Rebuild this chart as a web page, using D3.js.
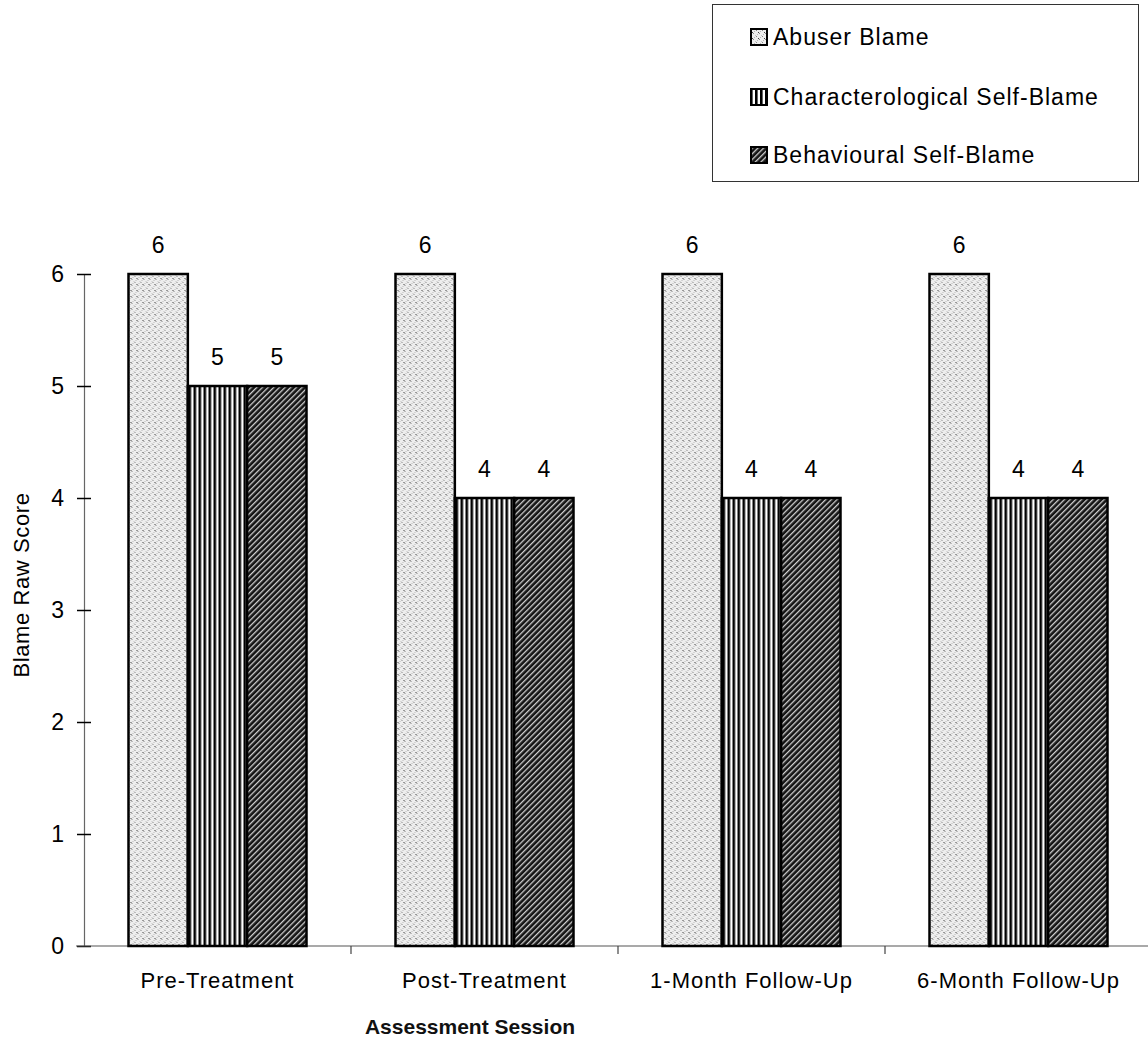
<!DOCTYPE html>
<html>
<head>
<meta charset="utf-8">
<script src="https://cdn.jsdelivr.net/npm/d3@7"></script>
<style>
  html, body { margin: 0; padding: 0; background: #fff; }
  svg { display: block; font-family: Arial, "Liberation Sans", Helvetica, sans-serif; }
</style>
</head>
<body>
<svg id="chart" width="1148" height="1044"></svg>
<script>
// Assessment sessions (x categories)
const sessions = ["Pre-Treatment", "Post-Treatment", "1-Month Follow-Up", "6-Month Follow-Up"];

// Blame raw scores per session
const abuserBlame = [6, 6, 6, 6];
const characterologicalSelfBlame = [5, 4, 4, 4];
const behaviouralSelfBlame = [5, 4, 4, 4];

const seriesNames = ["Abuser Blame", "Characterological Self-Blame", "Behavioural Self-Blame"];
const yTickValues = [0, 1, 2, 3, 4, 5, 6];

const series = [
  { name: seriesNames[0], values: abuserBlame, fill: "url(#stipple)" },
  { name: seriesNames[1], values: characterologicalSelfBlame, fill: "url(#vlines)" },
  { name: seriesNames[2], values: behaviouralSelfBlame, fill: "url(#hatch)" }
];

const svg = d3.select("#chart");

// ---- fill patterns ----
const defs = svg.append("defs");

// light dotted stipple
const st = defs.append("pattern").attr("id", "stipple")
  .attr("patternUnits", "userSpaceOnUse").attr("width", 6).attr("height", 6);
st.append("rect").attr("width", 6).attr("height", 6).attr("fill", "#eeeeee");
[[0,0,"#8a8a8a"],[3,3,"#8a8a8a"],[1,4,"#b8b8b8"],[4,1,"#b8b8b8"],[2,2,"#444"],[5,5,"#c4c4c4"]].forEach(([x, y, c]) => {
  st.append("rect").attr("x", x).attr("y", y).attr("width", 1).attr("height", 1).attr("fill", c);
});

// vertical lines
const vl = defs.append("pattern").attr("id", "vlines")
  .attr("patternUnits", "userSpaceOnUse").attr("width", 5).attr("height", 10);
vl.append("rect").attr("width", 5).attr("height", 10).attr("fill", "#fff");
vl.append("rect").attr("x", 0).attr("width", 2.6).attr("height", 10).attr("fill", "#000");

// dense diagonal hatch
const ht = defs.append("pattern").attr("id", "hatch")
  .attr("patternUnits", "userSpaceOnUse").attr("width", 4).attr("height", 4)
  .attr("patternTransform", "rotate(45)");
ht.append("rect").attr("width", 4).attr("height", 4).attr("fill", "#141414");
ht.append("rect").attr("x", 0).attr("width", 1.3).attr("height", 4).attr("fill", "#d0d0d0");

// ---- scales ----
const x = d3.scaleBand().domain(sessions).range([84, 1152]).padding(0);
const groupWidth = 178;
const xInner = d3.scaleBand().domain(d3.range(series.length)).range([0, groupWidth]).padding(0);
const y = d3.scaleLinear().domain([0, 6]).range([946, 274]);

// ---- y axis ----
const yAxis = svg.append("g").attr("transform", "translate(84,0)")
  .call(d3.axisLeft(y).tickValues(yTickValues).tickFormat(d3.format("d"))
    .tickSize(7).tickPadding(13).tickSizeOuter(0));
yAxis.select(".domain").attr("stroke", "#666").attr("stroke-width", 1.2);
yAxis.selectAll(".tick line").attr("x1", -7).attr("x2", 7).attr("stroke", "#000").attr("stroke-width", 1.5);
yAxis.selectAll(".tick text").attr("font-size", 23).attr("fill", "#000")
  .attr("font-family", "Arial, 'Liberation Sans', sans-serif");

// ---- x axis ----
const xAxis = svg.append("g").attr("transform", `translate(0,${y(0)})`);
xAxis.append("line").attr("x1", 76).attr("x2", 1148).attr("y1", 0).attr("y2", 0)
  .attr("stroke", "#555").attr("stroke-width", 1.2);
xAxis.selectAll(".sep").data(sessions.slice(1)).join("line")
  .attr("class", "sep")
  .attr("x1", d => x(d)).attr("x2", d => x(d))
  .attr("y1", 0).attr("y2", 8).attr("stroke", "#444").attr("stroke-width", 1.2);
xAxis.selectAll(".cat").data(sessions).join("text")
  .attr("class", "cat")
  .attr("x", d => x(d) + x.bandwidth() / 2)
  .attr("y", 42)
  .attr("text-anchor", "middle").attr("font-size", 22).attr("letter-spacing", 1)
  .attr("fill", "#000")
  .text(d => d);

// ---- bars ----
const groups = svg.append("g").selectAll("g.session").data(sessions).join("g")
  .attr("class", "session")
  .attr("transform", d => `translate(${x(d) + (x.bandwidth() - groupWidth) / 2},0)`);

groups.each(function (sess, si) {
  const g = d3.select(this);
  series.forEach((s, k) => {
    const v = s.values[si];
    g.append("rect")
      .attr("x", xInner(k)).attr("y", y(v))
      .attr("width", xInner.bandwidth()).attr("height", y(0) - y(v))
      .attr("fill", s.fill).attr("stroke", "#000").attr("stroke-width", 2.5);
    g.append("text")
      .attr("x", xInner(k) + xInner.bandwidth() / 2)
      .attr("y", y(v) - 21)
      .attr("text-anchor", "middle").attr("font-size", 23).attr("fill", "#000")
      .text(v);
  });
});

// ---- axis titles ----
svg.append("text")
  .attr("transform", `translate(29,585) rotate(-90)`)
  .attr("text-anchor", "middle").attr("font-size", 22).attr("letter-spacing", 0.6).attr("fill", "#000")
  .text("Blame Raw Score");

svg.append("text")
  .attr("x", 470).attr("y", 1034)
  .attr("text-anchor", "middle").attr("font-size", 21).attr("font-weight", "bold").attr("fill", "#111")
  .text("Assessment Session");

// ---- legend ----
const legend = svg.append("g");
legend.append("rect").attr("x", 712.5).attr("y", 4.5).attr("width", 426).attr("height", 177)
  .attr("fill", "#fff").attr("stroke", "#333").attr("stroke-width", 1);
const legendRows = [37, 97, 155];
series.forEach((s, k) => {
  legend.append("rect").attr("x", 751).attr("y", legendRows[k] - 8).attr("width", 16).attr("height", 16)
    .attr("fill", s.fill).attr("stroke", "#000").attr("stroke-width", 2);
  legend.append("text").attr("x", 773).attr("y", legendRows[k] + 8)
    .attr("font-size", 23).attr("letter-spacing", 1).attr("fill", "#000").text(s.name);
});
</script>
</body>
</html>
